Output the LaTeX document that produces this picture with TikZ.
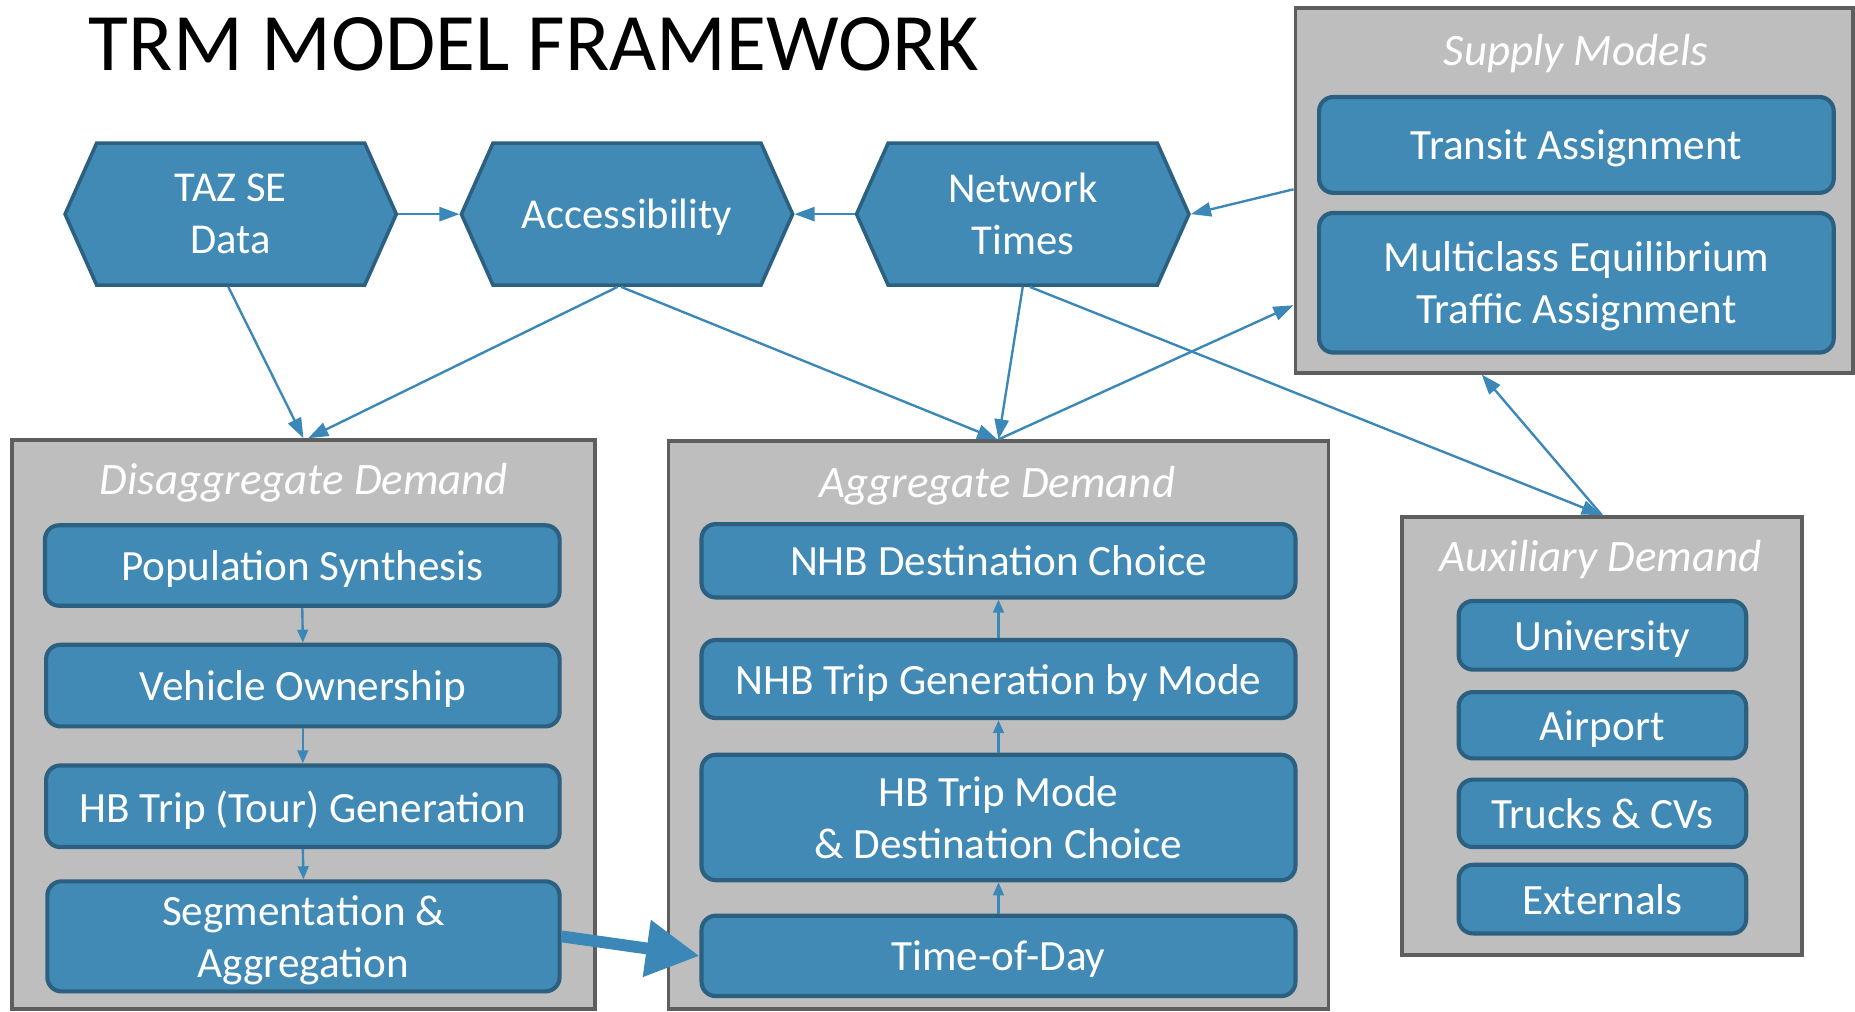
\documentclass[tikz,border=0pt]{standalone}
\usepackage{fontspec}
\setmainfont{Carlito}
\usetikzlibrary{arrows.meta,shapes.symbols,calc}

\definecolor{hexfill}{RGB}{65,138,181}
\definecolor{hexdraw}{RGB}{44,96,129}
\definecolor{grayfill}{RGB}{190,190,190}
\definecolor{grayline}{RGB}{94,94,94}
\definecolor{arrowblue}{RGB}{58,135,184}

\begin{document}
\begin{tikzpicture}[x=1pt,y=-1pt,
  hexnode/.style={shape=signal, signal to=east and west, signal pointer angle=132,
    fill=hexfill, draw=hexdraw, line width=3pt, minimum width=280pt, minimum height=120pt,
    inner sep=0pt, text=white, align=center, text depth=0pt, font=\fontsize{36}{44}\selectfont},
  group/.style={draw=grayline, fill=grayfill, line width=3.2pt, inner sep=0pt},
  grouptitle/.style={text=white, text depth=0pt, font=\itshape\fontsize{38}{44}\selectfont},
  stepbox/.style={rounded corners=12pt, fill=hexfill, draw=hexdraw, line width=3.5pt,
    text=white, align=center, inner sep=0pt, text depth=0pt, font=\fontsize{36.5}{44}\selectfont},
  flow/.style={draw=arrowblue, line width=2pt, -{Triangle[length=17pt,width=12pt]}},
  smallflow/.style={draw=arrowblue, line width=2pt, -{Triangle[length=11pt,width=9pt]}},
  bigflow/.style={draw=arrowblue, line width=10pt, -{Triangle[length=45pt,width=46pt]}}
]
\useasboundingbox (0,0) rectangle (1568,855);

% heading
\node[anchor=base west, inner sep=0pt, font=\fontsize{69}{80}\selectfont] (title) at (75,60) {TRM MODEL FRAMEWORK};

% input hexagons
\node[hexnode] (taz) at (195,181) {TAZ SE\\Data};
\node[hexnode] (acc) at (530,181) {Accessibility};
\node[hexnode, minimum width=281pt] (net) at (864.5,181) {Network\\Times};

% model groups
\node[group, minimum width=493pt, minimum height=481pt] (disagg) at (256.5,612.5) {};
\node[group, minimum width=558pt, minimum height=480pt] (agg) at (844,613) {};
\node[group, minimum width=338pt, minimum height=370pt] (aux) at (1354,622) {};
\node[group, minimum width=471pt, minimum height=308pt] (supply) at (1330.5,161) {};

\node[grouptitle] (disaggT) at (257,405) {Disaggregate Demand};
\node[grouptitle] (aggT) at (843,407) {Aggregate Demand};
\node[grouptitle] (auxT) at (1353,470) {Auxiliary Demand};
\node[grouptitle] (supplyT) at (1332,42) {Supply Models};

% disaggregate steps
\node[stepbox, minimum width=435pt, minimum height=68pt] (popsyn) at (255.5,478) {Population Synthesis};
\node[stepbox, minimum width=434pt, minimum height=69pt] (vehown) at (256,579.5) {Vehicle Ownership};
\node[stepbox, minimum width=434pt, minimum height=69pt] (hbgen) at (256,681.5) {HB Trip (Tour) Generation};
\node[stepbox, minimum width=433pt, minimum height=93pt] (seg) at (256.5,791.5) {Segmentation \&\\Aggregation};

% aggregate steps
\node[stepbox, minimum width=502pt, minimum height=62pt] (nhbdest) at (844,474) {NHB Destination Choice};
\node[stepbox, minimum width=502pt, minimum height=66pt] (nhbgen) at (844,574) {NHB Trip Generation by Mode};
\node[stepbox, minimum width=502pt, minimum height=106pt] (hbmode) at (844,691) {HB Trip Mode\\\& Destination Choice};
\node[stepbox, minimum width=502pt, minimum height=68pt] (tod) at (844,808) {Time-of-Day};

% auxiliary steps
\node[stepbox, minimum width=243pt, minimum height=58pt] (univ) at (1354.5,537) {University};
\node[stepbox, minimum width=243pt, minimum height=56pt] (airport) at (1354.5,613) {Airport};
\node[stepbox, minimum width=243pt, minimum height=57pt] (trucks) at (1354.5,687.5) {Trucks \& CVs};
\node[stepbox, minimum width=243pt, minimum height=58pt] (ext) at (1354.5,760) {Externals};

% supply steps
\node[stepbox, minimum width=435pt, minimum height=81pt] (transit) at (1332.5,122.5) {Transit Assignment};
\node[stepbox, minimum width=435pt, minimum height=118pt] (multi) at (1332.5,239) {Multiclass Equilibrium\\Traffic Assignment};

% attachment points on the supply box
\coordinate (supIn) at ($(supply.west)+(0,97)$);
\coordinate (supOut) at ($(supply.west)+(0,-1)$);
\coordinate (supBot) at ($(supply.south)+(-78,0)$);

% connectors between components
\draw[flow] (taz.east) -- (acc.west);
\draw[flow] (net.west) -- (acc.east);
\draw[flow] (supOut) -- (net.east);
\draw[flow] ($(taz.south)+(-2,0)$) -- (disagg.north);
\draw[flow] ($(acc.south)+(-8,0)$) -- ($(disagg.north)+(4,0)$);
\draw[flow] ($(acc.south)+(-5,0)$) -- ($(agg.north)+(-1,0)$);
\draw[flow] (net.south) -- (agg.north);
\draw[flow] (agg.north) -- (supIn);
\draw[flow] ($(net.south)+(6,0)$) -- (aux.north);
\draw[flow] (aux.north) -- (supBot);

% steps within the groups
\draw[smallflow] (popsyn.south) -- (vehown.north);
\draw[smallflow] (vehown.south) -- (hbgen.north);
\draw[smallflow] (hbgen.south) -- (seg.north);
\draw[smallflow] (tod.north) -- (hbmode.south);
\draw[smallflow] (hbmode.north) -- (nhbgen.south);
\draw[smallflow] (nhbgen.north) -- (nhbdest.south);

\draw[bigflow] (seg.east) -- (tod.west);
\end{tikzpicture}
\end{document}
